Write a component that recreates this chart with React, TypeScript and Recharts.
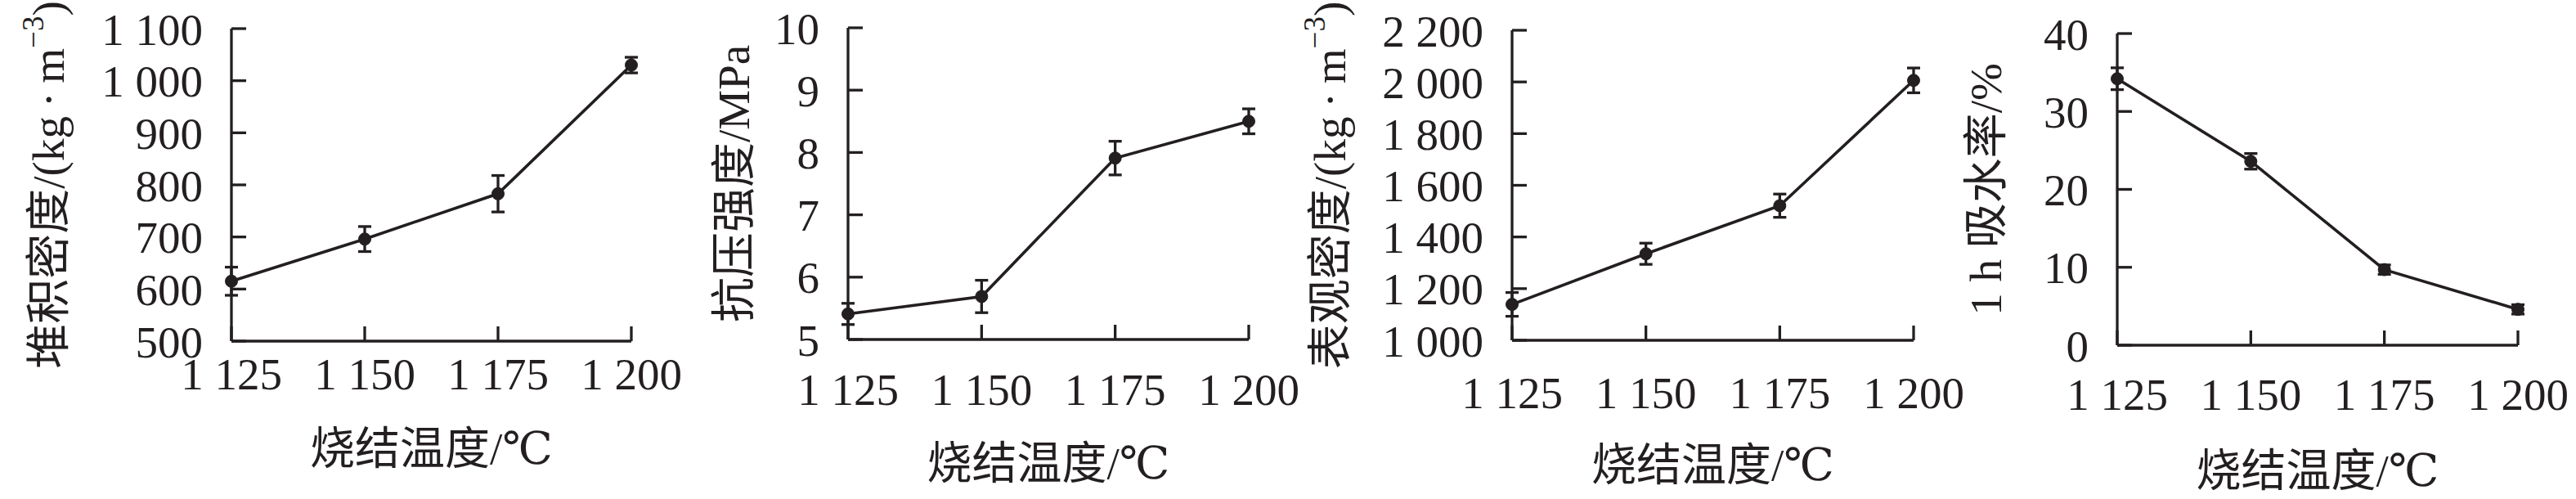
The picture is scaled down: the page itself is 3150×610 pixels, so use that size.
import React from 'react';
import { LineChart, Line, XAxis, YAxis, ErrorBar } from 'recharts';

// sintering temperature (°C)
const temps = [1125, 1150, 1175, 1200];
const xTicks = [1125, 1150, 1175, 1200];

// bulk density kg/m3
const bulkDensity = [615, 696, 783, 1030];
const bulkDensityErr = [27, 24, 35, 15];
const bulkTicks = [500, 600, 700, 800, 900, 1000, 1100];

// compressive strength MPa
const strength = [5.41, 5.69, 7.91, 8.5];
const strengthErr = [0.17, 0.26, 0.27, 0.2];
const strengthTicks = [5, 6, 7, 8, 9, 10];

// apparent density kg/m3
const apparentDensity = [1139, 1335, 1521, 2006];
const apparentDensityErr = [46, 41, 45, 48];
const apparentTicks = [1000, 1200, 1400, 1600, 1800, 2000, 2200];

// 1 h water absorption %
const absorption = [34.2, 23.6, 9.7, 4.6];
const absorptionErr = [1.4, 1.0, 0.6, 0.6];
const absorptionTicks = [0, 10, 20, 30, 40];

const INK = '#231f20';
const FONT = 'Liberation Serif, DejaVu Serif, Noto Sans CJK SC, serif';
const FS = 55;

const fmt = (v: number) =>
  v >= 1000 ? `${Math.floor(v / 1000)} ${String(v % 1000).padStart(3, '0')}` : String(v);

const XTitle = ({ cx, cy }: any) => (
  <text x={cx} y={cy} textAnchor="middle" dominantBaseline="central" fontSize={FS} fill={INK} style={{ fontFamily: FONT }}>
    烧结温度/℃
  </text>
);

const YTitle = ({ cx, cy, body }: any) => (
  <text
    x={cx}
    y={cy}
    transform={`rotate(-90 ${cx} ${cy})`}
    textAnchor="middle"
    dominantBaseline="central"
    fontSize={FS}
    fill={INK}
    style={{ fontFamily: FONT }}
  >
    {body}
  </text>
);

const kgTitle = (name: string) => (
  <>
    {name}/(kg{'\u2009·\u2009'}m<tspan dy={-19} fontSize={37}>−3</tspan>
    <tspan dy={19}>)</tspan>
  </>
);

const panels = [
  {
    values: bulkDensity, errors: bulkDensityErr, ticks: bulkTicks,
    title: kgTitle('堆积密度'),
    left: 283, right: 772, top: 35, bottom: 417, xTickMargin: 38, yTitleX: 59, xTitleY: 548,
  },
  {
    values: strength, errors: strengthErr, ticks: strengthTicks,
    title: '抗压强度/MPa',
    left: 1037, right: 1527, top: 34, bottom: 415, xTickMargin: 59, yTitleX: 897, xTitleY: 566,
  },
  {
    values: apparentDensity, errors: apparentDensityErr, ticks: apparentTicks,
    title: kgTitle('表观密度'),
    left: 1849, right: 2340, top: 37, bottom: 416, xTickMargin: 62, yTitleX: 1626, xTitleY: 568,
  },
  {
    values: absorption, errors: absorptionErr, ticks: absorptionTicks,
    title: '1 h 吸水率/%',
    left: 2589, right: 3079, top: 41, bottom: 422, xTickMargin: 58, yTitleX: 2428, xTitleY: 575,
  },
];

const W = 3150;
const H = 610;

const tickStyle = { fill: INK, fontSize: FS, style: { fontFamily: FONT } };

const Panel = ({ p }: { p: (typeof panels)[number] }) => {
  const data = temps.map((t, i) => ({ t, v: p.values[i], e: p.errors[i] }));
  const cyPlot = (p.top + p.bottom) / 2;
  const cxPlot = (p.left + p.right) / 2;
  return (
    <div style={{ position: 'absolute', left: 0, top: 0 }}>
      <LineChart width={W} height={H} data={data} margin={{ top: p.top, right: W - p.right, bottom: 0, left: 0 }}>
        <XAxis
          dataKey="t"
          type="number"
          domain={[xTicks[0], xTicks[xTicks.length - 1]]}
          ticks={xTicks}
          interval={0}
          height={H - p.bottom}
          tickFormatter={fmt}
          tickSize={-18}
          tickMargin={p.xTickMargin}
          axisLine={{ stroke: INK, strokeWidth: 3.3 }}
          tickLine={{ stroke: INK, strokeWidth: 3.3 }}
          tick={tickStyle}
          label={<XTitle cx={cxPlot} cy={p.xTitleY} />}
        />
        <YAxis
          type="number"
          domain={[p.ticks[0], p.ticks[p.ticks.length - 1]]}
          ticks={p.ticks}
          interval={0}
          width={p.left}
          tickFormatter={fmt}
          tickSize={-18}
          tickMargin={53}
          axisLine={{ stroke: INK, strokeWidth: 3.3 }}
          tickLine={{ stroke: INK, strokeWidth: 3.3 }}
          tick={tickStyle}
          label={<YTitle cx={p.yTitleX} cy={cyPlot} body={p.title} />}
        />
        <Line
          dataKey="v"
          stroke={INK}
          strokeWidth={3.6}
          dot={{ r: 7.5, fill: INK, stroke: INK, strokeWidth: 1 }}
          isAnimationActive={false}
        >
          <ErrorBar dataKey="e" direction="y" width={8} stroke={INK} strokeWidth={3.3} isAnimationActive={false} />
        </Line>
      </LineChart>
    </div>
  );
};

export default function App() {
  return (
    <div
      style={{
        position: 'absolute', left: 0, top: 0, width: W, height: H,
        background: '#fff', fontFamily: FONT,
      }}
    >
      {panels.map((p, i) => (
        <Panel key={i} p={p} />
      ))}
    </div>
  );
}
